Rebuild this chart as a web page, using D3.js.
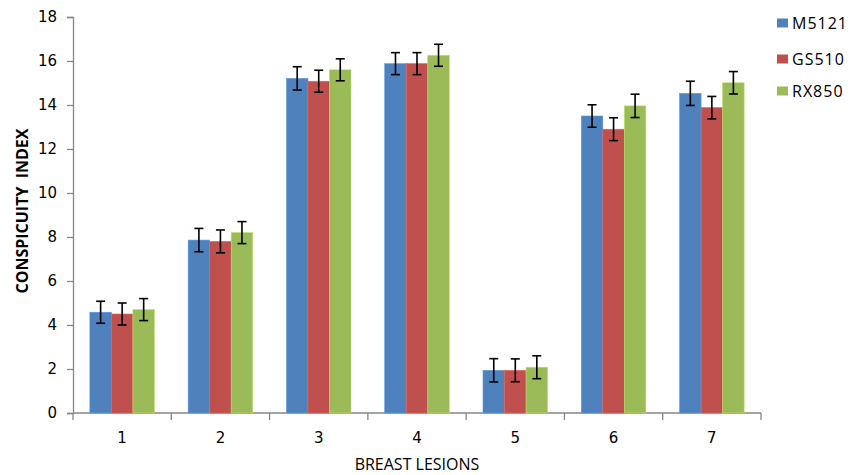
<!DOCTYPE html>
<html>
<head>
<meta charset="utf-8">
<script src="https://cdn.jsdelivr.net/npm/d3@7"></script>
<style>
  body { margin: 0; background: #fff; }
  svg { display: block; }
  .tick-label { font-family: "DejaVu Sans", Verdana, sans-serif; font-size: 15px; fill: #000; }
  .axis-title { font-family: "Open Sans", sans-serif; fill: #000; white-space: pre; }
  .legend-label { font-family: "Open Sans", sans-serif; font-size: 16px; letter-spacing: 1px; fill: #000; }
</style>
</head>
<body>
<svg width="860" height="475"></svg>
<script>
var lesions = ["1", "2", "3", "4", "5", "6", "7"];
var systems = ["M5121", "GS510", "RX850"];
var m5121 = [4.58, 7.86, 15.21, 15.88, 1.94, 13.5, 14.53];
var gs510 = [4.5, 7.8, 15.08, 15.88, 1.94, 12.9, 13.88];
var rx850 = [4.7, 8.2, 15.6, 16.26, 2.08, 13.96, 15.01];
var m5121Err = [0.5, 0.53, 0.53, 0.5, 0.53, 0.51, 0.55];
var gs510Err = [0.5, 0.52, 0.5, 0.5, 0.52, 0.52, 0.51];
var rx850Err = [0.5, 0.5, 0.5, 0.5, 0.52, 0.53, 0.51];
var yTicks = [0, 2, 4, 6, 8, 10, 12, 14, 16, 18];

var colors = { "M5121": "#4f81bd", "GS510": "#c0504d", "RX850": "#9bbb59" },
    values = { "M5121": m5121, "GS510": gs510, "RX850": rx850 },
    errors = { "M5121": m5121Err, "GS510": gs510Err, "RX850": rx850Err };

// note: "top" is taken by window.top, so plot edges get their own names
var svg = d3.select("svg"),
    plotLeft = 73, plotRight = 761, plotTop = 17, plotBottom = 413,
    axisColor = "#868686";

var x = d3.scaleBand().domain(lesions).range([plotLeft, plotRight]).paddingInner(0.343).paddingOuter(0.1715),
    xSub = d3.scaleBand().domain(systems).range([0, x.bandwidth()]),
    y = d3.scaleLinear().domain([0, 18]).range([plotBottom, plotTop]);

// flatten into one row per bar
var bars = [];
lesions.forEach(function(l, i) {
  systems.forEach(function(s) {
    bars.push({ lesion: l, system: s, value: values[s][i], err: errors[s][i] });
  });
});

// y axis
var yAxis = svg.append("g")
    .attr("transform", "translate(" + plotLeft + ",0)")
    .call(d3.axisLeft(y).tickValues(yTicks).tickSize(6).tickPadding(9));
yAxis.attr("font-family", null).attr("font-size", null);
yAxis.select(".domain").attr("stroke", axisColor).attr("stroke-width", 1.3);
yAxis.selectAll(".tick line").attr("stroke", axisColor).attr("stroke-width", 1.3);
yAxis.selectAll(".tick text").attr("class", "tick-label").attr("fill", "#000").attr("x", -16);

// x axis: ticks sit on category boundaries
var boundaries = lesions.map(function(l) { return x(l) - x.step() * x.paddingInner() / 2; });
boundaries.push(plotRight);

var xAxis = svg.append("g");
xAxis.append("line")
    .attr("x1", plotLeft).attr("x2", plotRight)
    .attr("y1", plotBottom).attr("y2", plotBottom)
    .attr("stroke", axisColor).attr("stroke-width", 1.3);
xAxis.selectAll("line.xt")
    .data(boundaries)
    .enter().append("line")
    .attr("class", "xt")
    .attr("x1", function(d) { return d; }).attr("x2", function(d) { return d; })
    .attr("y1", plotBottom).attr("y2", plotBottom + 7)
    .attr("stroke", axisColor).attr("stroke-width", 1.3);
xAxis.selectAll("text")
    .data(lesions)
    .enter().append("text")
    .attr("class", "tick-label")
    .attr("x", function(d) { return x(d) + x.bandwidth() / 2; })
    .attr("y", plotBottom + 30)
    .attr("text-anchor", "middle")
    .text(function(d) { return d; });

// bars
svg.append("g")
    .selectAll("rect")
    .data(bars)
    .enter().append("rect")
    .attr("x", function(d) { return x(d.lesion) + xSub(d.system); })
    .attr("y", function(d) { return y(d.value); })
    .attr("width", xSub.bandwidth())
    .attr("height", function(d) { return plotBottom - y(d.value); })
    .attr("fill", function(d) { return colors[d.system]; })
    .attr("stroke", function(d) { return d3.color(colors[d.system]).brighter(0.5); })
    .attr("stroke-width", 0.6);

// error bars
var errG = svg.append("g")
    .attr("stroke", "#000")
    .attr("stroke-width", 1.6)
    .selectAll("g")
    .data(bars)
    .enter().append("g")
    .attr("transform", function(d) { return "translate(" + (x(d.lesion) + xSub(d.system) + xSub.bandwidth() / 2) + ",0)"; });
errG.append("line")
    .attr("y1", function(d) { return y(d.value + d.err); })
    .attr("y2", function(d) { return y(d.value - d.err); });
errG.append("line")
    .attr("x1", -4.5).attr("x2", 4.5)
    .attr("y1", function(d) { return y(d.value + d.err); })
    .attr("y2", function(d) { return y(d.value + d.err); });
errG.append("line")
    .attr("x1", -4.5).attr("x2", 4.5)
    .attr("y1", function(d) { return y(d.value - d.err); })
    .attr("y2", function(d) { return y(d.value - d.err); });

// axis titles
svg.append("text")
    .attr("class", "axis-title")
    .attr("transform", "translate(28," + ((plotTop + plotBottom) / 2 - 4) + ") rotate(-90)")
    .attr("text-anchor", "middle")
    .attr("font-size", 16)
    .attr("font-weight", "bold")
    .text("CONSPICUITY  INDEX");

svg.append("text")
    .attr("class", "axis-title")
    .attr("x", (plotLeft + plotRight) / 2)
    .attr("y", 470)
    .attr("text-anchor", "middle")
    .attr("font-size", 16)
    .text("BREAST LESIONS");

// legend
var legendY = [23, 59, 91];
var legend = svg.append("g")
    .selectAll("g")
    .data(systems)
    .enter().append("g")
    .attr("transform", function(d, i) { return "translate(777," + legendY[i] + ")"; });
legend.append("rect")
    .attr("x", 0).attr("y", -4.5)
    .attr("width", 11).attr("height", 9)
    .attr("fill", function(d) { return colors[d]; });
legend.append("text")
    .attr("class", "legend-label")
    .attr("x", 15)
    .attr("y", 6)
    .text(function(d) { return d; });
</script>
</body>
</html>
